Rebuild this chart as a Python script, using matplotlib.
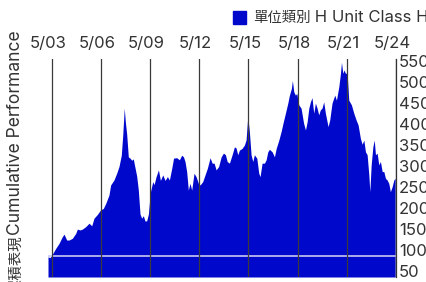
import matplotlib
matplotlib.use("Agg")
from matplotlib import pyplot as plt
import matplotlib.transforms as mtransforms
from matplotlib.patches import Rectangle
import pandas as pd

plt.rcParams['font.family'] = ['Inter', 'Noto Sans CJK TC', 'DejaVu Sans']

# cumulative performance of unit class H
dates = [
    "2003-02-09", "2003-03-25", "2003-05-15", "2003-07-30", "2003-10-12", "2003-12-25",
    "2004-02-01", "2004-04-01", "2004-05-22", "2004-08-04", "2004-10-19", "2004-11-24",
    "2005-01-23", "2005-03-15", "2005-05-30", "2005-08-11", "2005-10-10", "2005-11-30",
    "2006-02-13", "2006-04-27", "2006-06-24", "2006-08-17", "2006-10-29", "2006-12-05",
    "2007-02-18", "2007-04-19", "2007-06-09", "2007-07-31", "2007-09-01", "2007-10-05",
    "2007-10-28", "2007-11-28", "2008-01-03", "2008-02-10", "2008-03-18", "2008-04-23",
    "2008-06-01", "2008-07-08", "2008-08-13", "2008-09-20", "2008-10-27", "2008-12-02",
    "2009-01-10", "2009-02-16", "2009-03-25", "2009-05-08", "2009-07-01", "2009-07-30",
    "2009-09-13", "2009-11-04", "2009-12-18", "2010-02-09", "2010-04-01", "2010-05-23",
    "2010-07-06", "2010-08-28", "2010-10-07", "2010-12-17", "2011-02-13", "2011-04-07",
    "2011-05-16", "2011-06-19", "2011-07-26", "2011-09-01", "2011-10-08", "2011-11-15",
    "2012-01-06", "2012-02-20", "2012-04-12", "2012-05-19", "2012-07-17", "2012-09-07",
    "2012-10-29", "2012-12-29", "2013-02-12", "2013-03-28", "2013-05-12", "2013-07-07",
    "2013-09-01", "2013-10-22", "2013-12-06", "2014-01-13", "2014-03-04", "2014-05-03",
    "2014-06-24", "2014-07-31", "2014-09-06", "2014-10-12", "2014-12-10", "2015-01-31",
    "2015-03-10", "2015-04-17", "2015-05-23", "2015-06-30", "2015-08-07", "2015-09-11",
    "2015-11-04", "2015-12-18", "2016-01-16", "2016-03-01", "2016-04-22", "2016-05-30",
    "2016-07-06", "2016-08-11", "2016-10-11", "2016-12-01", "2017-01-09", "2017-03-09",
    "2017-04-28", "2017-06-18", "2017-08-03", "2017-09-25", "2017-10-31", "2017-12-14",
    "2018-01-05", "2018-02-05", "2018-03-13", "2018-04-13", "2018-05-27", "2018-07-17",
    "2018-09-12", "2018-10-23", "2018-11-30", "2019-01-06", "2019-02-10", "2019-03-18",
    "2019-04-25", "2019-06-02", "2019-07-09", "2019-08-14", "2019-09-20", "2019-10-27",
    "2019-12-04", "2020-01-10", "2020-03-10", "2020-04-16", "2020-06-06", "2020-08-06",
    "2020-09-12", "2020-11-04", "2020-12-11", "2021-01-02", "2021-02-02", "2021-03-02",
    "2021-03-31", "2021-05-08", "2021-06-14", "2021-08-11", "2021-10-04", "2021-11-24",
    "2022-01-08", "2022-02-28", "2022-04-08", "2022-05-15", "2022-06-21", "2022-07-28",
    "2022-09-04", "2022-09-26", "2022-10-26", "2022-12-03", "2023-01-02", "2023-01-30",
    "2023-03-08", "2023-04-14", "2023-05-20", "2023-06-28", "2023-08-04", "2023-09-09",
    "2023-10-16", "2023-11-22", "2023-12-28", "2024-02-05", "2024-03-14", "2024-04-12",
]
values = [
    98, 96, 104, 118, 130, 146,
    152, 138, 138, 142, 154, 164,
    162, 164, 170, 178, 172, 190,
    199, 210, 213, 225, 245, 269,
    281, 297, 313, 340, 388, 452,
    420, 390, 336, 333, 328, 331,
    310, 290, 257, 200, 190, 196,
    183, 184, 200, 252, 277, 270,
    289, 305, 280, 293, 280, 289,
    281, 309, 333, 334, 329, 340,
    336, 325, 301, 257, 273, 257,
    297, 289, 273, 269, 277, 293,
    309, 334, 321, 321, 305, 313,
    336, 345, 341, 325, 321, 341,
    360, 357, 341, 352, 356, 364,
    376, 432, 396, 341, 325, 341,
    333, 297, 289, 321, 321, 329,
    348, 354, 348, 336, 356, 376,
    396, 420, 440, 464, 483, 499,
    518, 491, 483, 487, 460, 452,
    416, 400, 420, 452, 467, 477,
    440, 464, 452, 436, 448, 452,
    467, 440, 408, 424, 464, 483,
    471, 503, 535, 561, 535, 543,
    535, 535, 471, 460, 440, 424,
    412, 380, 366, 376, 348, 341,
    293, 253, 317, 360, 376, 341,
    345, 317, 325, 301, 301, 285,
    281, 273, 253, 265, 281, 285,
]
tick_dates = ["2003-05-01", "2006-05-01", "2009-05-01", "2012-05-01",
              "2015-05-01", "2018-05-01", "2021-05-01", "2024-05-01"]
tick_labels = ["5/03", "5/06", "5/09", "5/12", "5/15", "5/18", "5/21", "5/24"]
y_ticks = [50, 100, 150, 200, 250, 300, 350, 400, 450, 500, 550]
series_zh, series_en = "單位類別", " H Unit Class H"
title_zh, title_en = "累積表現", "Cumulative Performance"

blue = "#0008cc"
text_col = "#333333"
fs = 12
fs_zh = 10.4

x = pd.to_datetime(dates)
ticks = pd.to_datetime(tick_dates)

fig = plt.figure(figsize=(4.26, 2.82), dpi=100)
W, H = 426, 282
ax = fig.add_axes([48 / W, 1 - 277 / H, 348 / W, 218 / H])

ax.fill_between(x, 50, values, color=blue, lw=0, zorder=1)
ax.axhline(100, color="#c9c9f2", lw=1.2, zorder=2)

ax.set_xlim(x[0], ticks[-1])
ax.set_ylim(50, 569)

ax.xaxis.tick_top()
ax.set_xticks(ticks)
ax.set_xticklabels(tick_labels)
ax.yaxis.tick_right()
ax.set_yticks(y_ticks)
ax.tick_params(axis="x", length=0, pad=6, labelsize=fs, colors=text_col)
ax.tick_params(axis="y", length=0, pad=2, labelsize=fs, colors=text_col)
for lab in ax.get_yticklabels():
    lab.set_verticalalignment("baseline")
shift = mtransforms.ScaledTranslation(-3.5 / 100, 0, fig.dpi_scale_trans)
for lab in ax.get_xticklabels():
    lab.set_transform(lab.get_transform() + shift)

ax.set_axisbelow(False)
ax.grid(axis="x", color="#3a3a3a", lw=0.9)
ax.grid(axis="y", visible=False)

for side in ["left", "top", "bottom"]:
    ax.spines[side].set_visible(False)
ax.spines["right"].set_color(text_col)
ax.spines["right"].set_linewidth(0.9)

# legend drawn by hand, it runs off the right edge in the original
fig.patches.append(Rectangle((233 / W, 1 - 24 / H), 13.5 / W, 13 / H,
                             transform=fig.transFigure, color=blue))
leg_zh = fig.text(253 / W, 1 - 17.5 / H, series_zh, fontsize=fs_zh, color=text_col,
                  ha="left", va="center")

# y title: latin part reads from the top down to the chinese part
ttl_en = fig.text(16 / W, 1 - 30 / H, title_en, rotation=90, fontsize=12.6,
                  color=text_col, ha="center", va="top")

fig.canvas.draw()
r = fig.canvas.get_renderer()
bb = leg_zh.get_window_extent(r)
fig.text(bb.x1 / W, 1 - 17.5 / H, series_en, fontsize=fs, color=text_col,
         ha="left", va="center")
bb = ttl_en.get_window_extent(r)
fig.text(16 / W, (bb.y0 - 1) / H, title_zh, rotation=90, fontsize=fs_zh,
         color=text_col, ha="center", va="top")

fig.savefig("out.png", dpi=100)
